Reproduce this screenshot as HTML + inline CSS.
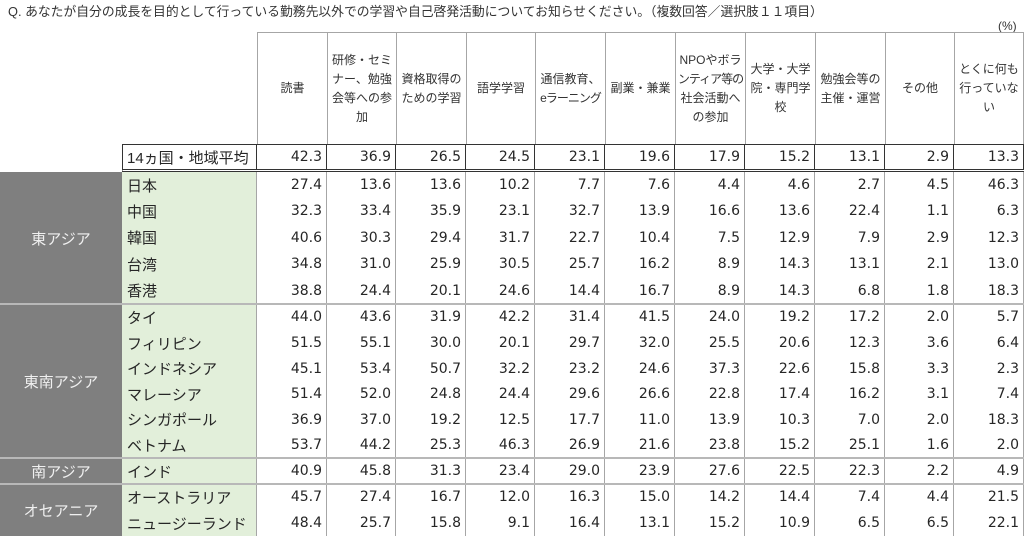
<!DOCTYPE html>
<html><head><meta charset="utf-8">
<style>
html,body{margin:0;padding:0;background:#fff;}
body{width:1024px;height:536px;position:relative;overflow:hidden;font-family:"Liberation Sans","Noto Sans CJK JP",sans-serif;color:#262626;}
.title{position:absolute;left:8px;top:3px;font-size:12.8px;line-height:18px;white-space:nowrap;color:#333;}
.pct{position:absolute;left:998px;top:17px;font-size:12px;line-height:18px;color:#333;}
.hdr{position:absolute;left:257px;top:32px;width:767px;height:112px;display:flex;border-top:1px solid #a6a6a6;box-sizing:border-box;}
.hdr>div{box-sizing:border-box;height:100%;border-left:1px solid #a6a6a6;display:flex;align-items:center;justify-content:center;text-align:center;font-size:12px;line-height:19px;color:#333;white-space:nowrap;overflow:visible;}
.hdr>div>p{margin:0;padding:0;text-align:center;}
.hdr>div:last-child{border-right:1px solid #a6a6a6;}
.tight{letter-spacing:-1px;}
.w70{width:70px;flex:none;}
.w69{width:69px;flex:none;}
.avg{position:absolute;left:122px;top:144px;width:902px;height:28px;box-sizing:border-box;border-top:1px solid #333;border-left:1px solid #333;border-bottom:3px double #333;display:flex;}
.avg>div{box-sizing:border-box;height:100%;border-right:1px solid #333;display:flex;align-items:center;}
.avg .lab{width:134px;flex:none;padding-left:4px;font-size:15px;}
.row{position:absolute;left:122px;width:902px;display:flex;}
.row>div{box-sizing:border-box;height:100%;display:flex;align-items:center;border-right:1px solid #a6a6a6;}
.row .lab{width:135px;flex:none;background:#e2efda;padding-left:5px;font-size:15px;}
.v{justify-content:flex-end;padding-right:4px;font-family:"DejaVu Sans","Liberation Sans",sans-serif;font-size:14px;}
.avg .v{justify-content:flex-end;}
.grp{position:absolute;left:0;width:122px;background:#7f7f7f;color:#f0f0f0;font-size:15px;display:flex;align-items:center;justify-content:center;}
.sep{position:absolute;left:0;width:1024px;height:2px;background:#b8b8b8;}
</style></head><body>
<div class="title">Q. あなたが自分の成長を目的として行っている勤務先以外での学習や自己啓発活動についてお知らせください。（複数回答／選択肢１１項目）</div>
<div class="pct">(%)</div>

<div class="hdr">
<div class="w70"><p>読書</p></div>
<div class="w69"><p>研修・セミ<br>ナー、勉強<br>会等への参<br>加</p></div>
<div class="w70"><p>資格取得の<br>ための学習</p></div>
<div class="w69"><p>語学学習</p></div>
<div class="w70"><p>通信教育、<br><span class="tight">eラーニング</span></p></div>
<div class="w70"><p>副業・兼業</p></div>
<div class="w70"><p>NPOやボラ<br><span class="tight">ンティア等の</span><br>社会活動へ<br>の参加</p></div>
<div class="w70"><p>大学・大学<br>院・専門学<br>校</p></div>
<div class="w70"><p>勉強会等の<br>主催・運営</p></div>
<div class="w69"><p>その他</p></div>
<div class="w70"><p>とくに何も<br>行っていな<br>い</p></div>
</div>

<div class="avg">
<div class="lab">14ヵ国・地域平均</div>
<div class="v w70">42.3</div><div class="v w69">36.9</div><div class="v w70">26.5</div><div class="v w69">24.5</div><div class="v w70">23.1</div><div class="v w70">19.6</div><div class="v w70">17.9</div><div class="v w70">15.2</div><div class="v w70">13.1</div><div class="v w69">2.9</div><div class="v w70">13.3</div>
</div>

<div class="grp" style="top:172px;height:132px;">東アジア</div>
<div class="grp" style="top:304px;height:154px;">東南アジア</div>
<div class="grp" style="top:458px;height:26px;">南アジア</div>
<div class="grp" style="top:484px;height:52px;">オセアニア</div>

<div class="row" style="top:172px;height:26px;"><div class="lab">日本</div><div class="v w70">27.4</div><div class="v w69">13.6</div><div class="v w70">13.6</div><div class="v w69">10.2</div><div class="v w70">7.7</div><div class="v w70">7.6</div><div class="v w70">4.4</div><div class="v w70">4.6</div><div class="v w70">2.7</div><div class="v w69">4.5</div><div class="v w70">46.3</div></div>
<div class="row" style="top:198px;height:26px;"><div class="lab">中国</div><div class="v w70">32.3</div><div class="v w69">33.4</div><div class="v w70">35.9</div><div class="v w69">23.1</div><div class="v w70">32.7</div><div class="v w70">13.9</div><div class="v w70">16.6</div><div class="v w70">13.6</div><div class="v w70">22.4</div><div class="v w69">1.1</div><div class="v w70">6.3</div></div>
<div class="row" style="top:224px;height:27px;"><div class="lab">韓国</div><div class="v w70">40.6</div><div class="v w69">30.3</div><div class="v w70">29.4</div><div class="v w69">31.7</div><div class="v w70">22.7</div><div class="v w70">10.4</div><div class="v w70">7.5</div><div class="v w70">12.9</div><div class="v w70">7.9</div><div class="v w69">2.9</div><div class="v w70">12.3</div></div>
<div class="row" style="top:251px;height:26px;"><div class="lab">台湾</div><div class="v w70">34.8</div><div class="v w69">31.0</div><div class="v w70">25.9</div><div class="v w69">30.5</div><div class="v w70">25.7</div><div class="v w70">16.2</div><div class="v w70">8.9</div><div class="v w70">14.3</div><div class="v w70">13.1</div><div class="v w69">2.1</div><div class="v w70">13.0</div></div>
<div class="row" style="top:277px;height:27px;"><div class="lab">香港</div><div class="v w70">38.8</div><div class="v w69">24.4</div><div class="v w70">20.1</div><div class="v w69">24.6</div><div class="v w70">14.4</div><div class="v w70">16.7</div><div class="v w70">8.9</div><div class="v w70">14.3</div><div class="v w70">6.8</div><div class="v w69">1.8</div><div class="v w70">18.3</div></div>

<div class="row" style="top:304px;height:26px;"><div class="lab">タイ</div><div class="v w70">44.0</div><div class="v w69">43.6</div><div class="v w70">31.9</div><div class="v w69">42.2</div><div class="v w70">31.4</div><div class="v w70">41.5</div><div class="v w70">24.0</div><div class="v w70">19.2</div><div class="v w70">17.2</div><div class="v w69">2.0</div><div class="v w70">5.7</div></div>
<div class="row" style="top:330px;height:26px;"><div class="lab">フィリピン</div><div class="v w70">51.5</div><div class="v w69">55.1</div><div class="v w70">30.0</div><div class="v w69">20.1</div><div class="v w70">29.7</div><div class="v w70">32.0</div><div class="v w70">25.5</div><div class="v w70">20.6</div><div class="v w70">12.3</div><div class="v w69">3.6</div><div class="v w70">6.4</div></div>
<div class="row" style="top:356px;height:25px;"><div class="lab">インドネシア</div><div class="v w70">45.1</div><div class="v w69">53.4</div><div class="v w70">50.7</div><div class="v w69">32.2</div><div class="v w70">23.2</div><div class="v w70">24.6</div><div class="v w70">37.3</div><div class="v w70">22.6</div><div class="v w70">15.8</div><div class="v w69">3.3</div><div class="v w70">2.3</div></div>
<div class="row" style="top:381px;height:26px;"><div class="lab">マレーシア</div><div class="v w70">51.4</div><div class="v w69">52.0</div><div class="v w70">24.8</div><div class="v w69">24.4</div><div class="v w70">29.6</div><div class="v w70">26.6</div><div class="v w70">22.8</div><div class="v w70">17.4</div><div class="v w70">16.2</div><div class="v w69">3.1</div><div class="v w70">7.4</div></div>
<div class="row" style="top:407px;height:25px;"><div class="lab">シンガポール</div><div class="v w70">36.9</div><div class="v w69">37.0</div><div class="v w70">19.2</div><div class="v w69">12.5</div><div class="v w70">17.7</div><div class="v w70">11.0</div><div class="v w70">13.9</div><div class="v w70">10.3</div><div class="v w70">7.0</div><div class="v w69">2.0</div><div class="v w70">18.3</div></div>
<div class="row" style="top:432px;height:26px;"><div class="lab">ベトナム</div><div class="v w70">53.7</div><div class="v w69">44.2</div><div class="v w70">25.3</div><div class="v w69">46.3</div><div class="v w70">26.9</div><div class="v w70">21.6</div><div class="v w70">23.8</div><div class="v w70">15.2</div><div class="v w70">25.1</div><div class="v w69">1.6</div><div class="v w70">2.0</div></div>

<div class="row" style="top:458px;height:26px;"><div class="lab">インド</div><div class="v w70">40.9</div><div class="v w69">45.8</div><div class="v w70">31.3</div><div class="v w69">23.4</div><div class="v w70">29.0</div><div class="v w70">23.9</div><div class="v w70">27.6</div><div class="v w70">22.5</div><div class="v w70">22.3</div><div class="v w69">2.2</div><div class="v w70">4.9</div></div>

<div class="row" style="top:484px;height:26px;"><div class="lab">オーストラリア</div><div class="v w70">45.7</div><div class="v w69">27.4</div><div class="v w70">16.7</div><div class="v w69">12.0</div><div class="v w70">16.3</div><div class="v w70">15.0</div><div class="v w70">14.2</div><div class="v w70">14.4</div><div class="v w70">7.4</div><div class="v w69">4.4</div><div class="v w70">21.5</div></div>
<div class="row" style="top:510px;height:26px;"><div class="lab">ニュージーランド</div><div class="v w70">48.4</div><div class="v w69">25.7</div><div class="v w70">15.8</div><div class="v w69">9.1</div><div class="v w70">16.4</div><div class="v w70">13.1</div><div class="v w70">15.2</div><div class="v w70">10.9</div><div class="v w70">6.5</div><div class="v w69">6.5</div><div class="v w70">22.1</div></div>

<div class="sep" style="top:303px;"></div>
<div class="sep" style="top:457px;"></div>
<div class="sep" style="top:483px;"></div>
</body></html>
